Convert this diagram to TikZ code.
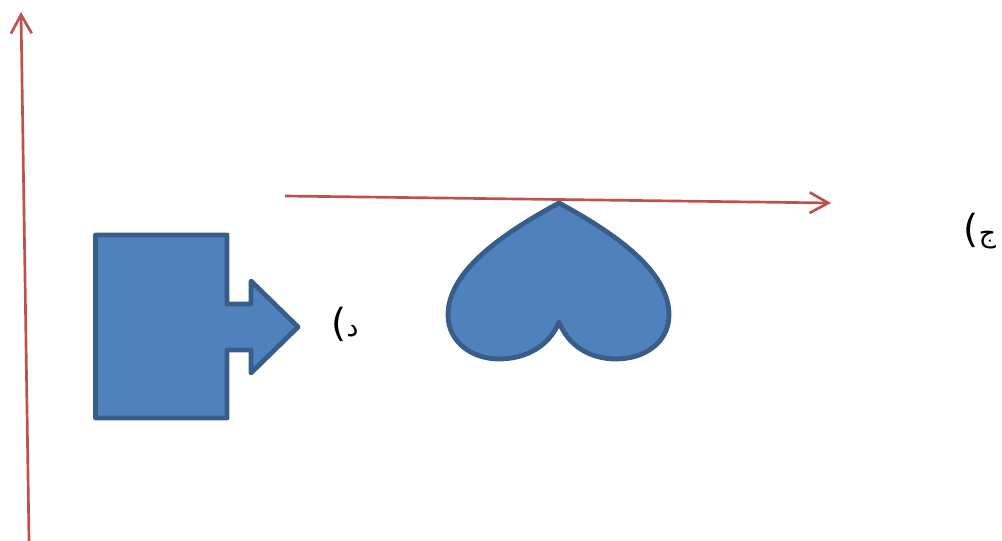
\documentclass[tikz,border=0pt]{standalone}
\usepackage{fontspec}
\usetikzlibrary{arrows.meta}
\TeXXeTstate=1
\newfontfamily\arabicfont[Script=Arabic]{DejaVu Sans}
\newcommand{\tallparen}{{\fontsize{29}{30}\selectfont )}}
\definecolor{axisred}{HTML}{C0504D}
\definecolor{shapefill}{HTML}{4F81BD}
\definecolor{shapeline}{HTML}{385D8A}
\tikzset{
  axisline/.style={draw=axisred,line width=2pt,-{Straight Barb[length=14pt,width=15.5pt,line width=2pt]}},
  solidshape/.style={fill=shapefill,draw=shapeline,line width=3.6pt,line join=round},
  arlabel/.style={font=\arabicfont\fontsize{20}{24}\selectfont,inner sep=0pt}
}
\begin{document}
\begin{tikzpicture}[x=0.75pt,y=-0.75pt]
\useasboundingbox (0,0) rectangle (1002,541);
\coordinate (vs) at (29,541);
\coordinate (ve) at (21,12);
\coordinate (hs) at (285,196);
\coordinate (he) at (831,203);
\draw[axisline] (vs) -- (ve);
\draw[axisline] (hs) -- (he);
\draw[solidshape] (95.5,235) -- (227,235) -- (227,304) -- (251,304) -- (251,281) -- (298,327) -- (251,373) -- (251,350) -- (227,350) -- (227,418) -- (95.5,418) -- cycle;
\draw[solidshape] (559,203)
  .. controls (500,235) and (448,272) .. (448,315)
  .. controls (448,342) and (472,359) .. (499,359)
  .. controls (527,359) and (550,345) .. (559,322)
  .. controls (568,345) and (589,359) .. (616,359)
  .. controls (645,359) and (669,342) .. (669,315)
  .. controls (669,272) and (618,235) .. (559,203) -- cycle;
\node[arlabel] (d) at (345,324) {\beginR د\tallparen\endR};
\node[arlabel] (j) at (980,231) {\beginR ج\tallparen\endR};
\end{tikzpicture}
\end{document}
